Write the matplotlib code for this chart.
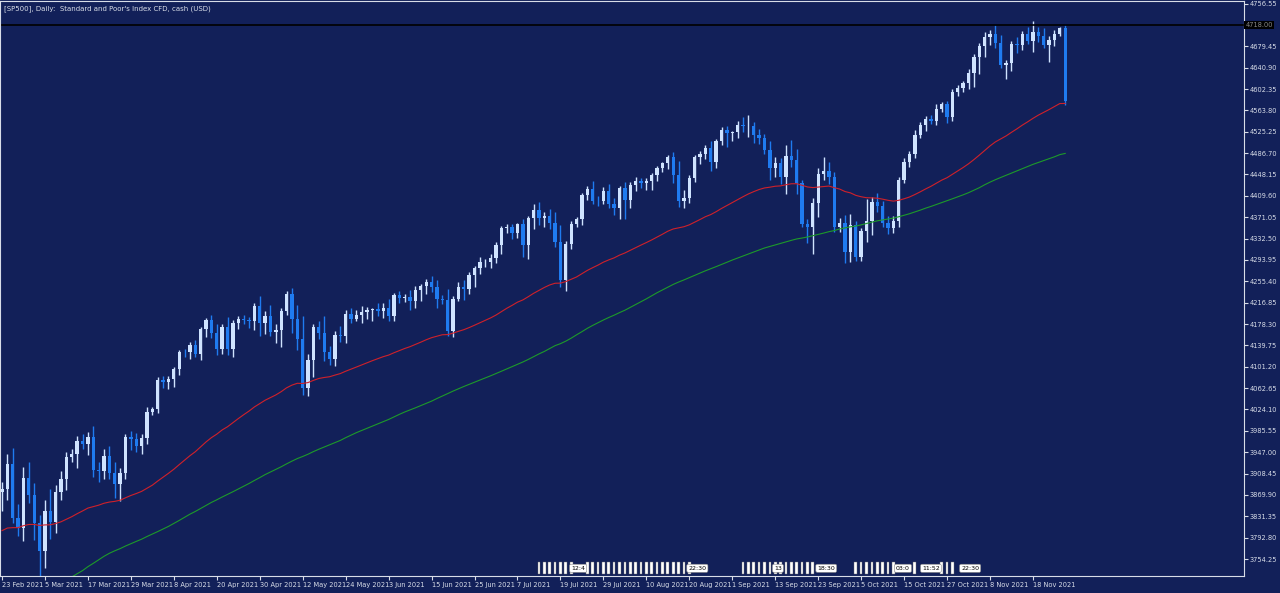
import matplotlib
matplotlib.use("Agg")
import matplotlib.pyplot as plt
import numpy as np
import pandas as pd

# closes before the visible window (used only for the moving averages)
pre_closes = [3380, 3348, 3408, 3361, 3419, 3447, 3477, 3534, 3511, 3488, 3483, 3484, 3427, 3443, 3435, 3453,
              3465, 3400, 3391, 3271, 3310, 3270,
              3310, 3369, 3443, 3510, 3509, 3550, 3545, 3572, 3537, 3585, 3626, 3610, 3609, 3567, 3582, 3557,
              3578, 3635, 3629, 3638, 3621,
              3662, 3669, 3666, 3699, 3691, 3702, 3672, 3668, 3663, 3647, 3694, 3701, 3722, 3709, 3694, 3690,
              3687, 3703, 3703, 3735, 3727, 3732, 3756,
              3756, 3700, 3726, 3748, 3803, 3824, 3799, 3801, 3809, 3795, 3768, 3768, 3798, 3851, 3853, 3841,
              3855, 3849, 3750, 3787, 3714,
              3774, 3826, 3830, 3871, 3887, 3915, 3911, 3909, 3916, 3934, 3934, 3932, 3931, 3913, 3906, 3876]

closes = [3881, 3925, 3829, 3811,
          3901, 3870, 3819, 3768, 3841, 3821, 3875, 3898, 3939, 3943, 3968, 3962, 3974, 3915, 3913, 3940,
          3910, 3889, 3909, 3974, 3971, 3958, 3972,
          4019, 4025, 4077, 4073, 4079, 4097, 4128, 4127, 4141, 4124, 4170, 4185, 4163, 4134, 4173, 4134,
          4180, 4187, 4186, 4183, 4211, 4181,
          4192, 4164, 4167, 4201, 4232, 4188, 4152, 4063, 4113, 4173, 4163, 4127, 4115, 4159, 4156, 4197,
          4188, 4195, 4200, 4204, 4205,
          4202, 4208, 4192, 4230, 4226, 4227, 4219, 4239, 4247, 4255, 4246, 4223, 4222, 4166, 4224, 4246,
          4241, 4266, 4280, 4291, 4291, 4297,
          4320, 4352, 4354, 4343, 4358, 4320, 4369, 4384, 4369, 4374, 4360, 4327, 4258, 4323, 4359, 4367,
          4411, 4422, 4401, 4400, 4419, 4395,
          4387, 4423, 4402, 4429, 4437, 4432, 4436, 4447, 4460, 4468, 4479, 4448, 4400, 4405, 4441, 4479,
          4486, 4496, 4470, 4509, 4529, 4523,
          4524, 4537, 4535, 4536, 4520, 4514, 4493, 4459, 4469, 4443, 4481, 4474, 4433, 4358, 4354, 4396,
          4449, 4455, 4443, 4353, 4360, 4308,
          4357, 4300, 4346, 4364, 4399, 4391, 4361, 4351, 4364, 4438, 4471, 4486, 4520, 4537, 4549, 4545,
          4567, 4575, 4551, 4597, 4605,
          4613, 4631, 4660, 4680, 4697, 4702, 4685, 4646, 4649, 4683, 4682, 4701, 4689, 4705, 4698, 4682,
          4690, 4701, 4712, 4580]

upper_wick = [12, 18, 30, 25, 20, 28, 22, 15, 20, 40, 12, 15, 8, 10, 8, 12, 10, 20, 15, 12,
              18, 20, 10, 6, 12, 10, 8, 10, 3, 6, 8, 5, 4, 3, 6, 4, 8, 3, 4, 10, 15, 5, 18,
              6, 6, 8, 5, 6, 18, 10, 20, 12, 6, 6, 12, 25, 40, 12, 5, 10, 30, 12, 6, 15, 6,
              10, 8, 10, 5, 3, 12, 8, 15, 4, 8, 6, 12, 8, 4, 5, 10, 12, 8, 20, 4, 8,
              12, 6, 3, 8, 4, 8, 6, 4, 5, 4, 2, 10, 5, 10, 15, 6, 12, 20, 30, 5, 5, 4,
              4, 6, 15, 8, 6, 12, 10, 4, 12, 5, 6, 5, 6, 4, 4, 3, 5, 10, 25, 15, 6, 4,
              5, 6, 12, 3, 4, 6, 3, 8, 15, 20, 6, 10, 8, 15, 10, 8, 20, 30, 20, 5, 10, 10,
              10, 25, 15, 10, 10, 15, 20, 8, 6, 40, 8, 15, 10, 12, 10, 5, 6, 5, 8, 6, 4, 6,
              8, 4, 5, 5, 4, 4, 8, 5, 6, 8, 6, 15, 14, 5, 6, 14, 6, 14, 20, 10, 15, 8, 8, 3, 6]

lower_wick = [35, 20, 10, 15, 25, 15, 30, 60, 30, 30, 20, 15, 20, 10, 25, 10, 20, 12, 20, 15,
              12, 25, 30, 10, 20, 10, 15, 10, 4, 8, 10, 12, 15, 10, 8, 12, 6, 10, 15, 10,
              12, 10, 12, 15, 10, 8, 12, 15, 25, 20, 8, 20, 30, 6, 25, 20, 12, 15, 30, 12, 15, 10,
              12, 10, 12, 8, 4, 15, 12, 20, 10, 12, 8, 8, 10, 8, 15, 12, 20, 15, 10, 15, 8,
              10, 12, 4, 20, 8, 20, 12, 10, 12, 8, 15, 10, 12, 10, 20, 25, 20, 12, 15, 10,
              10, 12, 20, 10, 6, 10, 8, 6, 8, 6, 8, 12, 20, 35, 15, 10, 8, 12, 15, 10,
              8, 10, 15, 10, 12, 8, 6, 12, 10, 15, 10, 8, 25, 15, 10, 10, 20, 15, 10, 8,
              20, 15, 12, 30, 12, 20, 5, 30, 50, 25, 10, 12, 8, 8, 20, 18, 8, 8,
              20, 25, 10, 8, 10, 8, 10, 6, 10, 8, 6, 10, 6, 8, 6, 10, 6, 8,
              8, 10, 25, 30, 20, 15, 8, 6, 25, 15, 15, 10, 6, 20, 10, 5, 30, 10, 3, 6]

tick_dates = ["23 Feb 2021", "5 Mar 2021", "17 Mar 2021", "29 Mar 2021", "8 Apr 2021", "20 Apr 2021",
              "30 Apr 2021", "12 May 2021", "24 May 2021", "3 Jun 2021", "15 Jun 2021", "25 Jun 2021",
              "7 Jul 2021", "19 Jul 2021", "29 Jul 2021", "10 Aug 2021", "20 Aug 2021", "1 Sep 2021",
              "13 Sep 2021", "23 Sep 2021", "5 Oct 2021", "15 Oct 2021", "27 Oct 2021", "8 Nov 2021",
              "18 Nov 2021"]

price_ticks = [4756.55, 4679.45, 4640.90, 4602.35, 4563.80, 4525.25, 4486.70, 4448.15, 4409.60, 4371.05,
               4332.50, 4293.95, 4255.40, 4216.85, 4178.30, 4139.75, 4101.20, 4062.65, 4024.10, 3985.55,
               3947.00, 3908.45, 3869.90, 3831.35, 3792.80, 3754.25]
last_price = 4718.00

# calendar events (bar index) shown as flags on the bottom edge
event_bars = [100, 101, 102, 103, 104, 105, 106, 109, 110, 111, 112, 113, 114, 115, 116, 117, 118,
              119, 120, 121, 122, 123, 124, 125, 126, 127, 128,
              138, 139, 140, 141, 142, 143, 144, 145, 146, 147, 148, 149, 150, 151,
              159, 160, 161, 162, 163, 164, 165, 166, 170, 175, 176, 177]
event_labels = [("12:4", 107.3), ("22:30", 129.5), ("13", 144.5), ("18:30", 153.5), ("03:0", 167.8),
                ("11:52", 173.0), ("22:30", 180.3)]

BG = "#122059"
UP = "#cfe3ff"
DOWN = "#1f7bf0"
FG = "#d8dde8"

all_c = pd.Series(pre_closes + closes, dtype=float)
ema50 = all_c.ewm(span=50, adjust=False).mean().values[len(pre_closes):]
sma100 = all_c.rolling(100).mean().values[len(pre_closes):]

c = np.array(closes, dtype=float)
o = np.concatenate([[pre_closes[-1]], c[:-1]])
hi = np.maximum(o, c) + np.array(upper_wick)
lo = np.minimum(o, c) - np.array(lower_wick)
x = np.arange(len(c))

fig = plt.figure(figsize=(12.8, 5.93), dpi=100, facecolor=BG)
ax = fig.add_axes([0, 17 / 593, 1244 / 1280, 1 - 18 / 593])
ax.set_facecolor(BG)

up = c >= o
ax.vlines(x, lo, hi, colors=np.where(up, UP, DOWN), linewidth=1)
ax.bar(x[up], (c - o)[up], bottom=o[up], width=0.62, color=UP, linewidth=0)
ax.bar(x[~up], (o - c)[~up], bottom=c[~up], width=0.62, color=DOWN, linewidth=0)

ax.plot(x, ema50, color="#d0202a", linewidth=0.8)
ax.plot(x, sma100, color="#1d9a2a", linewidth=0.8)
ax.axhline(last_price, color="black", linewidth=1.2)

ax.set_xlim(-0.37, 231.3)
ax.set_ylim(3723.6, 4761.2)

ax.yaxis.tick_right()
ax.set_yticks(price_ticks)
ax.set_yticklabels(["%.2f" % p for p in price_ticks])
ax.set_xticks(np.arange(len(tick_dates)) * 8)
ax.set_xticklabels(tick_dates, ha="left")
ax.tick_params(colors=FG, labelsize=4.8, length=3, width=0.8, pad=1)
ax.tick_params(axis="y", pad=1)
for s in ax.spines.values():
    s.set_color(FG)
    s.set_linewidth(0.8)

ax.text(1.001, last_price, "%.2f" % last_price, transform=ax.get_yaxis_transform(), fontsize=4.8,
        color="#888888", va="center", ha="left", bbox=dict(boxstyle="square,pad=0.15", fc="black", ec="none"),
        clip_on=False)
ax.text(0.003, 0.993, "[SP500], Daily:  Standard and Poor's Index CFD, cash (USD)", transform=ax.transAxes,
        fontsize=5, color=FG, va="top", ha="left")

ax.bar(event_bars, 20, bottom=3728, width=0.5, color="white", edgecolor="#707070", linewidth=0.3)
for lbl, pos in event_labels:
    ax.text(pos, 3733, lbl, fontsize=4.5, color="black", ha="center", va="bottom",
            bbox=dict(boxstyle="round,pad=0.25", fc="white", ec="#888888", lw=0.4))

fig.savefig("out.png", dpi=100, facecolor=BG)
